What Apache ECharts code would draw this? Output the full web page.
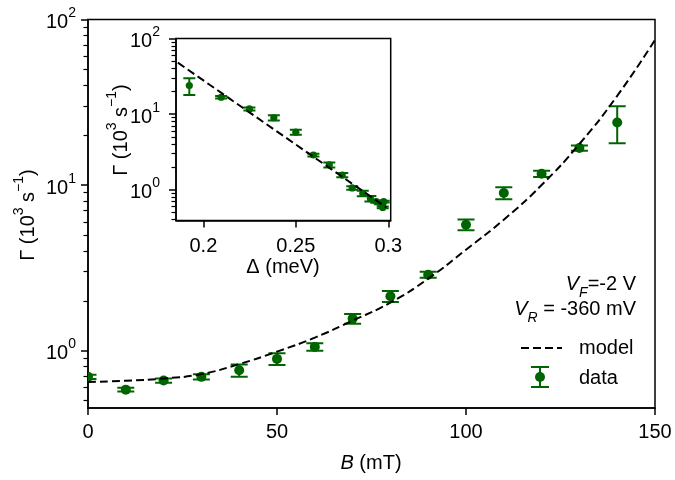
<!DOCTYPE html>
<html lang="en">
<head>
<meta charset="UTF-8">
<title>Rate vs field</title>
<script src="https://cdn.jsdelivr.net/npm/echarts@6/dist/echarts.min.js"></script>
<style>
  html, body { margin: 0; padding: 0; background: #fff; }
  #main { width: 675px; height: 480px; }
</style>
</head>
<body>
<div id="main"></div>
<script>
// main panel: measured rate vs field
var fieldB = [0, 10, 20, 30, 40, 50, 60, 70, 80, 90, 100, 110, 120, 130, 140];
var rateGamma = [0.694, 0.581, 0.659, 0.694, 0.760, 0.891, 1.053, 1.560, 2.127, 2.875, 5.76, 8.95, 11.70, 16.73, 23.87];
var rateErr = [0.02, 0.015, 0.02, 0.025, 0.065, 0.072, 0.055, 0.105, 0.16, 0.12, 0.43, 0.74, 0.5, 0.6, 6.0];

// model curve
var modelB = [0, 10, 20, 30, 40, 50, 60, 70, 80, 90, 100, 110, 120, 130, 140, 150];
var modelGamma = [0.647, 0.657, 0.678, 0.721, 0.829, 0.986, 1.198, 1.517, 1.95, 2.72, 4.07, 6.18, 10.0, 17.7, 34.6, 75.3];

// inset: same rates against the gap
var gapDelta = [0.2975, 0.297, 0.2957, 0.2935, 0.2903, 0.2862, 0.2805, 0.2751, 0.2681, 0.2595, 0.25, 0.2381, 0.2249, 0.2096, 0.1924];
var insetModelDelta = [0.1862, 0.299];
var insetModelGamma = [48, 0.58];

// ticks
var decadeTicks = [1, 10, 100];
var mainYMinor = [0.5, 0.6, 0.7, 0.8, 0.9, 2, 3, 4, 5, 6, 7, 8, 9, 20, 30, 40, 50, 60, 70, 80, 90];
var insetYMinor = [0.4, 0.5, 0.6, 0.7, 0.8, 0.9, 2, 3, 4, 5, 6, 7, 8, 9, 20, 30, 40, 50, 60, 70, 80, 90];
var insetXTicks = [0.2, 0.25, 0.3];

var GREEN = '#006400';
var FONT = '"Liberation Sans", Arial, sans-serif';
var FS = 20;

var supRich = {
    b: {fontSize: FS, fontFamily: FONT, color: '#000', lineHeight: 26, verticalAlign: 'bottom'},
    s: {fontSize: 14, fontFamily: FONT, color: '#000', lineHeight: 14, verticalAlign: 'top'}
};
var subRich = {
    v: {fontSize: FS, fontFamily: FONT, fontStyle: 'italic', color: '#000', lineHeight: 26, verticalAlign: 'top'},
    u: {fontSize: 14, fontFamily: FONT, fontStyle: 'italic', color: '#000', lineHeight: 14, verticalAlign: 'bottom'},
    n: {fontSize: FS, fontFamily: FONT, color: '#000', lineHeight: 26, verticalAlign: 'top'}
};

function pow10(v) {
    return '{b|10}{s|' + Math.round(Math.log10(v)) + '}';
}

function errorBars(capHalf, radius) {
    return function (params, api) {
        var x = api.value(0), y = api.value(1), e = api.value(2);
        var c = api.coord([x, y]);
        var hi = api.coord([x, y + e]);
        var lo = api.coord([x, y - e]);
        var st = {stroke: GREEN, lineWidth: 2};
        return {
            type: 'group',
            children: [
                {type: 'line', shape: {x1: c[0], y1: hi[1], x2: c[0], y2: lo[1]}, style: st},
                {type: 'line', shape: {x1: c[0] - capHalf, y1: hi[1], x2: c[0] + capHalf, y2: hi[1]}, style: st},
                {type: 'line', shape: {x1: c[0] - capHalf, y1: lo[1], x2: c[0] + capHalf, y2: lo[1]}, style: st},
                {type: 'circle', shape: {cx: c[0], cy: c[1], r: radius}, style: {fill: GREEN}}
            ]
        };
    };
}

var lineSt = {color: '#000', width: 1.5};
var tickSt = {color: '#000', width: 1.5};

function logAxis(grid, min, labels, margin) {
    return {
        gridIndex: grid, type: 'log', logBase: 10, min: min, max: 100, position: 'left',
        axisLine: {show: true, onZero: false, lineStyle: lineSt},
        axisTick: {show: true, customValues: labels, length: 7, lineStyle: tickSt},
        axisLabel: {show: true, customValues: labels, formatter: pow10, margin: margin, rich: supRich},
        splitLine: {show: false}
    };
}
function minorAxis(grid, min, minors) {
    return {
        gridIndex: grid, type: 'log', logBase: 10, min: min, max: 100, position: 'left',
        axisLine: {show: false, onZero: false},
        axisTick: {show: true, customValues: minors, length: 4.5, lineStyle: {color: '#000', width: 1.2}},
        axisLabel: {show: false},
        splitLine: {show: false}
    };
}

var mainData = fieldB.map(function (b, i) { return [b, rateGamma[i], rateErr[i]]; });
var insetData = gapDelta.map(function (d, i) { return [d, rateGamma[i], rateErr[i]]; });

var chart = echarts.init(document.getElementById('main'));
chart.setOption({
    animation: false,
    textStyle: {fontFamily: FONT},
    grid: [
        {left: 88, top: 19.5, width: 567, height: 388.5, show: true, borderColor: '#000', borderWidth: 1.5, backgroundColor: 'transparent'},
        {left: 176, top: 38.6, width: 214.7, height: 181.9, show: true, borderColor: '#000', borderWidth: 1.5, backgroundColor: '#fff'}
    ],
    xAxis: [
        {
            gridIndex: 0, type: 'value', min: 0, max: 150, interval: 50,
            axisLine: {show: true, onZero: false, lineStyle: lineSt},
            axisTick: {show: true, length: 7, lineStyle: tickSt},
            axisLabel: {fontSize: FS, color: '#000', margin: 14, fontFamily: FONT},
            splitLine: {show: false}
        },
        {
            gridIndex: 1, type: 'value', min: 0.1852, max: 0.3013,
            axisLine: {show: true, onZero: false, lineStyle: lineSt},
            axisTick: {show: true, customValues: insetXTicks, length: 7, lineStyle: tickSt},
            axisLabel: {customValues: insetXTicks, fontSize: FS, color: '#000', margin: 16, fontFamily: FONT,
                formatter: function (v) { return String(+v.toFixed(2)); }},
            splitLine: {show: false}
        }
    ],
    yAxis: [
        logAxis(0, 0.45, decadeTicks, 12),
        minorAxis(0, 0.45, mainYMinor),
        logAxis(1, 0.39, decadeTicks, 16),
        minorAxis(1, 0.39, insetYMinor)
    ],
    series: [
        {
            type: 'line', xAxisIndex: 0, yAxisIndex: 0,
            data: modelB.map(function (b, i) { return [b, modelGamma[i]]; }),
            showSymbol: false, smooth: true, silent: true,
            lineStyle: {color: '#000', width: 2, type: [8, 4]}
        },
        {
            type: 'custom', xAxisIndex: 0, yAxisIndex: 0, clip: true,
            data: mainData, encode: {x: 0, y: 1},
            renderItem: errorBars(8.5, 5)
        },
        {
            type: 'line', xAxisIndex: 1, yAxisIndex: 2,
            data: insetModelDelta.map(function (d, i) { return [d, insetModelGamma[i]]; }),
            showSymbol: false, silent: true,
            lineStyle: {color: '#000', width: 2, type: [8, 4]}
        },
        {
            type: 'custom', xAxisIndex: 1, yAxisIndex: 2, clip: true,
            data: insetData, encode: {x: 0, y: 1},
            renderItem: errorBars(6, 3.6)
        }
    ],
    graphic: [
        {type: 'text', x: 25, y: 215, rotation: Math.PI / 2,
            style: {text: '{b|Γ (10}{s|3}{b| s}{s|−1}{b|)}', rich: supRich, align: 'center', verticalAlign: 'middle'}},
        {type: 'text', x: 371, y: 466,
            style: {text: '{v|B}{n| (mT)}', rich: subRich, align: 'center', verticalAlign: 'middle'}},
        {type: 'text', x: 118, y: 130, rotation: Math.PI / 2,
            style: {text: '{b|Γ (10}{s|3}{b| s}{s|−1}{b|)}', rich: supRich, align: 'center', verticalAlign: 'middle'}},
        {type: 'text', x: 283, y: 267,
            style: {text: 'Δ (meV)', fontSize: FS, fontFamily: FONT, fill: '#000', align: 'center', verticalAlign: 'middle'}},
        {type: 'text', x: 636, y: 287,
            style: {text: '{v|V}{u|F}{n|=-2 V}', rich: subRich, align: 'right', verticalAlign: 'middle'}},
        {type: 'text', x: 636, y: 312,
            style: {text: '{v|V}{u|R}{n| = -360 mV}', rich: subRich, align: 'right', verticalAlign: 'middle'}},
        // legend
        {type: 'line', shape: {x1: 521, y1: 348, x2: 562, y2: 348},
            style: {stroke: '#000', lineWidth: 2, lineDash: [8, 4]}},
        {type: 'text', x: 579, y: 348,
            style: {text: 'model', fontSize: FS, fontFamily: FONT, fill: '#000', align: 'left', verticalAlign: 'middle'}},
        {type: 'group', x: 540, y: 377, children: [
            {type: 'line', shape: {x1: 0, y1: -10, x2: 0, y2: 10}, style: {stroke: GREEN, lineWidth: 2}},
            {type: 'line', shape: {x1: -9, y1: -10, x2: 9, y2: -10}, style: {stroke: GREEN, lineWidth: 2}},
            {type: 'line', shape: {x1: -9, y1: 10, x2: 9, y2: 10}, style: {stroke: GREEN, lineWidth: 2}},
            {type: 'circle', shape: {cx: 0, cy: 0, r: 5}, style: {fill: GREEN}}
        ]},
        {type: 'text', x: 579, y: 378,
            style: {text: 'data', fontSize: FS, fontFamily: FONT, fill: '#000', align: 'left', verticalAlign: 'middle'}}
    ]
});
</script>
</body>
</html>
